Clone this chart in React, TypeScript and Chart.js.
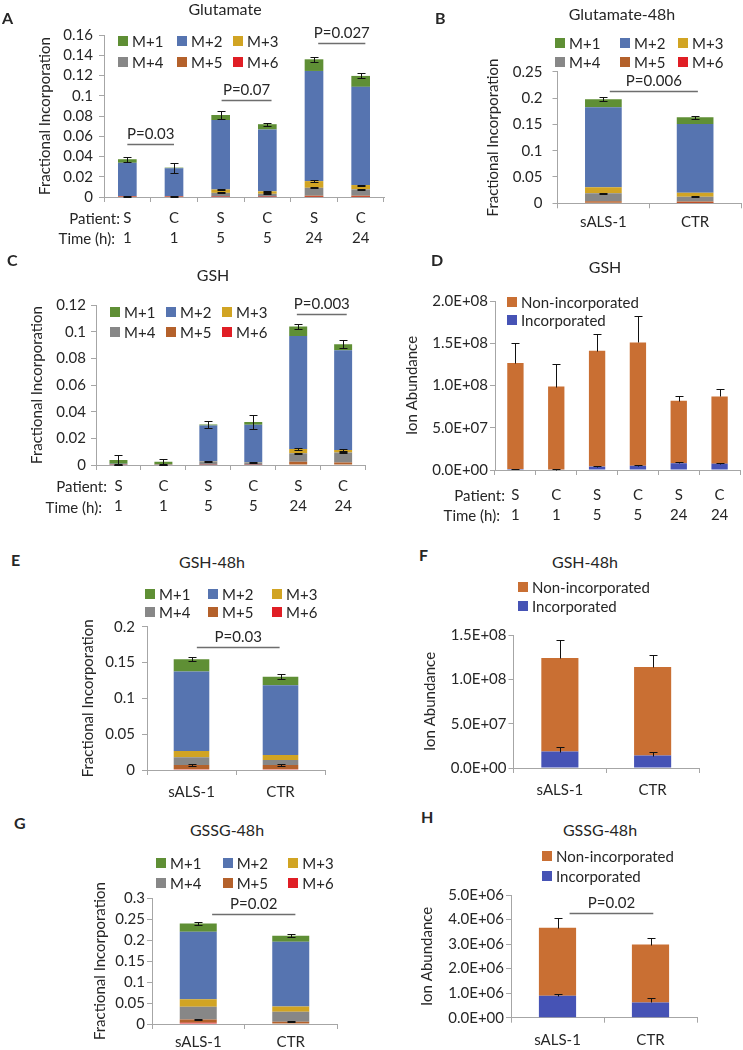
import React, { useEffect, useRef } from 'react';
import { Chart, registerables } from 'chart.js';

Chart.register(...registerables);

const FONT = 'Lato, "Open Sans", "DejaVu Sans", sans-serif';
const TEXT = '#262626';
const AXIS = '#A6A6A6';
const BRACKET = '#6E6E6E';
Chart.defaults.font.family = FONT;
Chart.defaults.color = TEXT;

// ---------------- categories / names ----------------
const patients = ['S', 'C', 'S', 'C', 'S', 'C'];
const timesH = ['1', '1', '5', '5', '24', '24'];
const groups48h = ['sALS-1', 'CTR'];
const isoNames = ['M+1', 'M+2', 'M+3', 'M+4', 'M+5', 'M+6'];
const isoColors = ['#5F8F35', '#5674B0', '#D1A423', '#878787', '#B4612B', '#E01E25'];
const abundNames = ['Non-incorporated', 'Incorporated'];
const abundColors = ['#C96F33', '#4653B5'];

// ---------------- A: Glutamate (time course) ----------------
const gluM1 = [0.0035, 0.0006, 0.005, 0.0052, 0.0115, 0.0108];
const gluM2 = [0.0328, 0.0275, 0.0686, 0.0611, 0.1088, 0.097];
const gluM3 = [0.0004, 0.0003, 0.0033, 0.0024, 0.0066, 0.0043];
const gluM4 = [0.0003, 0.0003, 0.0037, 0.0029, 0.0078, 0.0062];
const gluM5 = [0.0002, 0.0002, 0.0003, 0.0002, 0.0012, 0.0012];
const gluM6 = [0.0001, 0.0001, 0.0001, 0.0001, 0.0001, 0.0001];
const gluM1Err = [0.0025, 0.005, 0.004, 0.0016, 0.0025, 0.0024];
const gluM3Err = [0, 0, 0.0005, 0.0004, 0.0006, 0.0005];
const gluM4Err = [0.0004, 0.0004, 0.0005, 0.0004, 0.0006, 0.0005];

// ---------------- B: Glutamate-48h ----------------
const glu48M1 = [0.0155, 0.0127];
const glu48M2 = [0.152, 0.1306];
const glu48M3 = [0.0114, 0.0076];
const glu48M4 = [0.015, 0.009];
const glu48M5 = [0.003, 0.003];
const glu48M6 = [0.001, 0.0006];
const glu48M1Err = [0.004, 0.003];
const glu48M4Err = [0.001, 0.001];

// ---------------- C: GSH (time course) ----------------
const gshM1 = [0.0028, 0.0019, 0.0007, 0.002, 0.007, 0.0045];
const gshM2 = [0.0003, 0.0002, 0.027, 0.0283, 0.0848, 0.0747];
const gshM3 = [0.0001, 0.0001, 0.0003, 0.0002, 0.0032, 0.002];
const gshM4 = [0.0003, 0.0002, 0.0022, 0.0015, 0.0063, 0.0075];
const gshM5 = [0.0001, 0.0001, 0.0001, 0.0001, 0.0022, 0.0015];
const gshM6 = [0.0001, 0, 0.0001, 0.0001, 0.0003, 0.0003];
const gshM1Err = [0.0035, 0.0022, 0.0025, 0.0055, 0.0017, 0.003];
const gshM3Err = [0, 0, 0, 0, 0.0006, 0.0005];
const gshM4Err = [0.0004, 0.0003, 0.0005, 0.0003, 0.0005, 0.0006];

// ---------------- D: GSH ion abundance ----------------
const gshNonInc = [1.255e8, 0.983e8, 1.37e8, 1.46e8, 0.74e8, 0.795e8];
const gshInc = [0.012e8, 0.005e8, 0.04e8, 0.05e8, 0.08e8, 0.075e8];
const gshNonIncErr = [0.235e8, 0.27e8, 0.2e8, 0.31e8, 0.055e8, 0.09e8];
const gshIncErr = [0.003e8, 0.002e8, 0.01e8, 0.015e8, 0.01e8, 0.012e8];

// ---------------- E: GSH-48h ----------------
const gsh48M1 = [0.0173, 0.012];
const gsh48M2 = [0.1108, 0.0973];
const gsh48M3 = [0.0088, 0.007];
const gsh48M4 = [0.0107, 0.007];
const gsh48M5 = [0.006, 0.006];
const gsh48M6 = [0.001, 0.001];
const gsh48M1Err = [0.003, 0.003];
const gsh48M5Err = [0.0008, 0.0008];

// ---------------- F: GSH-48h ion abundance ----------------
const gsh48NonInc = [1.055e8, 1.0e8];
const gsh48Inc = [0.185e8, 0.14e8];
const gsh48NonIncErr = [0.2e8, 0.14e8];
const gsh48IncErr = [0.05e8, 0.04e8];

// ---------------- G: GSSG-48h ----------------
const gssgM1 = [0.02, 0.014];
const gssgM2 = [0.161, 0.155];
const gssgM3 = [0.018, 0.012];
const gssgM4 = [0.03, 0.024];
const gssgM5 = [0.008, 0.0045];
const gssgM6 = [0.003, 0.001];
const gssgM1Err = [0.004, 0.004];
const gssgM5Err = [0.0015, 0.001];

// ---------------- H: GSSG-48h ion abundance ----------------
const gssgNonInc = [2.78e6, 2.36e6];
const gssgInc = [0.89e6, 0.62e6];
const gssgNonIncErr = [0.41e6, 0.27e6];
const gssgIncErr = [0.07e6, 0.2e6];

// ---------------- helpers ----------------
const sci = (v: number): string => {
  const [m, e] = v.toExponential(1).split('e');
  const n = parseInt(e, 10);
  return `${m}E${n < 0 ? '-' : '+'}${String(Math.abs(n)).padStart(2, '0')}`;
};
const dec = (v: number): string => String(Number(v.toFixed(6)));

const isoSeries = (vals: number[][], errs: (number[] | undefined)[]) =>
  [5, 4, 3, 2, 1, 0].map((i) => ({ name: isoNames[i], color: isoColors[i], data: vals[i], err: errs[i] }));
const abundSeries = (nonInc: number[], inc: number[], nonErr: number[], incErr: number[]) => [
  { name: abundNames[1], color: abundColors[1], data: inc, err: incErr },
  { name: abundNames[0], color: abundColors[0], data: nonInc, err: nonErr },
];
const timeLabels = patients.map((p, i) => [p, timesH[i]]);

type Bracket = { from: number; to: number; y: number; text: string };
type Spec = {
  box: number[];
  plot: number[];
  labels: any[];
  series: { name: string; color: string; data: number[]; err?: number[] }[];
  yMax: number;
  yStep: number;
  fmt: (v: number) => string;
  yTitle: string;
  yTitleX: number;
  yPad: number;
  xFirstLineY: number;
  xLineH: number;
  brackets: Bracket[];
  plusOnly: boolean;
};

const specA: Spec = {
  box: [0, 20, 390, 235], plot: [104, 33, 384, 197], labels: timeLabels,
  series: isoSeries([gluM1, gluM2, gluM3, gluM4, gluM5, gluM6], [gluM1Err, undefined, gluM3Err, gluM4Err, undefined, undefined]),
  yMax: 0.16, yStep: 0.02, fmt: dec, yTitle: 'Fractional Incorporation', yTitleX: 45, yPad: 6,
  xFirstLineY: 218, xLineH: 20,
  brackets: [
    { from: 0, to: 1, y: 0.052, text: 'P=0.03' },
    { from: 2.02, to: 3.09, y: 0.0958, text: 'P=0.07' },
    { from: 4.09, to: 5.1, y: 0.152, text: 'P=0.027' },
  ],
  plusOnly: false,
};
const specB: Spec = {
  box: [440, 40, 303, 195], plot: [557.5, 71.7, 741, 203.3], labels: groups48h,
  series: isoSeries([glu48M1, glu48M2, glu48M3, glu48M4, glu48M5, glu48M6], [glu48M1Err, undefined, undefined, glu48M4Err, undefined, undefined]),
  yMax: 0.25, yStep: 0.05, fmt: dec, yTitle: 'Fractional Incorporation', yTitleX: 493, yPad: 10,
  xFirstLineY: 222, xLineH: 18,
  brackets: [{ from: 0.07, to: 1.03, y: 0.214, text: 'P=0.006' }],
  plusOnly: false,
};
const specC: Spec = {
  box: [0, 290, 390, 235], plot: [96, 305, 365.6, 465], labels: timeLabels,
  series: isoSeries([gshM1, gshM2, gshM3, gshM4, gshM5, gshM6], [gshM1Err, undefined, gshM3Err, gshM4Err, undefined, undefined]),
  yMax: 0.12, yStep: 0.02, fmt: dec, yTitle: 'Fractional Incorporation', yTitleX: 37, yPad: 5,
  xFirstLineY: 486, xLineH: 20.5,
  brackets: [{ from: 3.97, to: 5.08, y: 0.113, text: 'P=0.003' }],
  plusOnly: false,
};
const specD: Spec = {
  box: [395, 290, 348, 240], plot: [495, 300, 740, 470], labels: timeLabels,
  series: abundSeries(gshNonInc, gshInc, gshNonIncErr, gshIncErr),
  yMax: 2e8, yStep: 0.5e8, fmt: sci, yTitle: 'Ion Abundance', yTitleX: 412, yPad: 2,
  xFirstLineY: 495, xLineH: 20,
  brackets: [],
  plusOnly: true,
};
const specE: Spec = {
  box: [0, 595, 390, 210], plot: [147, 626.7, 325, 770], labels: groups48h,
  series: isoSeries([gsh48M1, gsh48M2, gsh48M3, gsh48M4, gsh48M5, gsh48M6], [gsh48M1Err, undefined, undefined, undefined, gsh48M5Err, undefined]),
  yMax: 0.2, yStep: 0.05, fmt: dec, yTitle: 'Fractional Incorporation', yTitleX: 88, yPad: 7,
  xFirstLineY: 791.7, xLineH: 18,
  brackets: [{ from: 0.06, to: 0.99, y: 0.172, text: 'P=0.03' }],
  plusOnly: false,
};
const specF: Spec = {
  box: [395, 620, 348, 185], plot: [513.5, 635, 699, 768], labels: groups48h,
  series: abundSeries(gsh48NonInc, gsh48Inc, gsh48NonIncErr, gsh48IncErr),
  yMax: 1.5e8, yStep: 0.5e8, fmt: sci, yTitle: 'Ion Abundance', yTitleX: 430, yPad: 2,
  xFirstLineY: 790, xLineH: 18,
  brackets: [],
  plusOnly: true,
};
const specG: Spec = {
  box: [0, 855, 390, 195], plot: [152, 898.3, 337, 1024], labels: groups48h,
  series: isoSeries([gssgM1, gssgM2, gssgM3, gssgM4, gssgM5, gssgM6], [gssgM1Err, undefined, undefined, undefined, gssgM5Err, undefined]),
  yMax: 0.3, yStep: 0.05, fmt: dec, yTitle: 'Fractional Incorporation', yTitleX: 100, yPad: 2,
  xFirstLineY: 1042, xLineH: 18,
  brackets: [{ from: 0.15, to: 1.05, y: 0.2625, text: 'P=0.02' }],
  plusOnly: false,
};
const specH: Spec = {
  box: [395, 880, 348, 170], plot: [511, 895, 697, 1017.7], labels: groups48h,
  series: abundSeries(gssgNonInc, gssgInc, gssgNonIncErr, gssgIncErr),
  yMax: 5e6, yStep: 1e6, fmt: sci, yTitle: 'Ion Abundance', yTitleX: 427, yPad: 2,
  xFirstLineY: 1040, xLineH: 18,
  brackets: [{ from: 0.13, to: 1.03, y: 4.26e6, text: 'P=0.02' }],
  plusOnly: true,
};

function BarPanel({ spec }: { spec: Spec }) {
  const ref = useRef<HTMLCanvasElement>(null);
  const [bl, bt, bw, bh] = spec.box;
  useEffect(() => {
    const [pl, pt, pr, pb] = spec.plot;
    const padLeft = Math.max(0, spec.yTitleX - 9 - bl);
    const xPad = spec.xFirstLineY - pb - 5 - spec.xLineH / 2;

    const errPlugin = {
      id: 'errbars',
      afterDatasetsDraw(chart: any) {
        const ctx = chart.ctx;
        const ys = chart.scales.y;
        ctx.save();
        ctx.strokeStyle = '#111';
        ctx.lineWidth = 1;
        spec.series.forEach((s, i) => {
          if (!s.err) return;
          const meta = chart.getDatasetMeta(i);
          meta.data.forEach((el: any, j: number) => {
            const e = s.err![j];
            if (!e) return;
            let top = 0;
            for (let k = 0; k <= i; k++) top += spec.series[k].data[j];
            const x = Math.round(el.x) + 0.5;
            const yHi = Math.round(ys.getPixelForValue(top + e)) + 0.5;
            const yLo = Math.round(ys.getPixelForValue(spec.plusOnly ? top : top - e)) + 0.5;
            ctx.beginPath();
            ctx.moveTo(x, yLo);
            ctx.lineTo(x, yHi);
            ctx.moveTo(x - 4, yHi);
            ctx.lineTo(x + 4, yHi);
            if (!spec.plusOnly) {
              ctx.moveTo(x - 4, yLo);
              ctx.lineTo(x + 4, yLo);
            }
            ctx.stroke();
          });
        });
        ctx.restore();
      },
    };

    const bracketPlugin = {
      id: 'brackets',
      afterDatasetsDraw(chart: any) {
        const ctx = chart.ctx;
        const xs = chart.scales.x;
        const ys = chart.scales.y;
        ctx.save();
        spec.brackets.forEach((b) => {
          const x1 = xs.getPixelForValue(b.from);
          const x2 = xs.getPixelForValue(b.to);
          const y = Math.round(ys.getPixelForValue(b.y)) + 0.5;
          ctx.strokeStyle = BRACKET;
          ctx.lineWidth = 1.3;
          ctx.beginPath();
          ctx.moveTo(x1, y);
          ctx.lineTo(x2, y);
          ctx.stroke();
          ctx.fillStyle = TEXT;
          ctx.font = `15px ${FONT}`;
          ctx.textAlign = 'center';
          ctx.textBaseline = 'middle';
          ctx.fillText(b.text, (x1 + x2) / 2, y - 10);
        });
        ctx.restore();
      },
    };

    const gridCfg = { display: true, drawOnChartArea: false, drawTicks: true, tickLength: 5, color: AXIS, lineWidth: 1 };
    const borderCfg = { display: true, color: AXIS, width: 1 };

    const chart = new Chart(ref.current as HTMLCanvasElement, {
      type: 'bar',
      data: {
        labels: spec.labels,
        datasets: spec.series.map((s) => ({
          label: s.name,
          data: s.data,
          backgroundColor: s.color,
          borderWidth: 0,
          categoryPercentage: 1,
          barPercentage: 0.4,
        })),
      },
      options: {
        responsive: false,
        animation: false,
        devicePixelRatio: 1,
        layout: { padding: { left: padLeft, top: pt - bt, right: bl + bw - pr, bottom: 0 } },
        plugins: { legend: { display: false }, tooltip: { enabled: false }, title: { display: false } },
        scales: {
          x: {
            stacked: true,
            grid: gridCfg,
            border: borderCfg,
            ticks: {
              color: TEXT,
              font: { family: FONT, size: 15, lineHeight: spec.xLineH / 15 },
              padding: xPad,
              maxRotation: 0,
              minRotation: 0,
              autoSkip: false,
            },
            afterFit: (s: any) => {
              s.height = bt + bh - pb;
            },
          },
          y: {
            stacked: true,
            min: 0,
            max: spec.yMax,
            grid: gridCfg,
            border: borderCfg,
            ticks: {
              stepSize: spec.yStep,
              autoSkip: false,
              callback: (v: any) => spec.fmt(Number(v)),
              color: TEXT,
              font: { family: FONT, size: 15 },
              padding: spec.yPad,
            },
            title: { display: true, text: spec.yTitle, color: TEXT, font: { family: FONT, size: 15, lineHeight: 1.2 }, padding: 0 },
            afterFit: (s: any) => {
              s.width = pl - bl - padLeft;
            },
          },
        },
      } as any,
      plugins: [errPlugin, bracketPlugin],
    });
    return () => chart.destroy();
  }, [spec]);
  return (
    <canvas
      ref={ref}
      width={bw}
      height={bh}
      style={{ position: 'absolute', left: bl, top: bt, width: bw, height: bh, display: 'block' }}
    />
  );
}

function Txt({ x, y, children, align = 'center', size = 15, bold = false }: any) {
  const style: any = {
    position: 'absolute',
    top: y - 10,
    height: 20,
    lineHeight: '20px',
    fontSize: size,
    fontFamily: FONT,
    fontWeight: bold ? 700 : 400,
    color: TEXT,
    whiteSpace: 'nowrap',
  };
  if (align === 'center') {
    style.left = x;
    style.transform = 'translateX(-50%)';
  } else if (align === 'right') {
    style.right = 743 - x;
  } else {
    style.left = x;
  }
  return <div style={style}>{children}</div>;
}

function LegendItem({ x, y, color, label }: any) {
  return (
    <>
      <div style={{ position: 'absolute', left: x, top: y - 5, width: 10, height: 10, background: color }} />
      <Txt x={x + 14} y={y} align="left">{label}</Txt>
    </>
  );
}

function IsoLegend({ cols, rows }: { cols: number[]; rows: number[] }) {
  return (
    <>
      {isoNames.map((n, i) => (
        <LegendItem key={n} x={cols[i % 3]} y={rows[Math.floor(i / 3)]} color={isoColors[i]} label={n} />
      ))}
    </>
  );
}

function AbundLegend({ x, rows }: { x: number; rows: number[] }) {
  return (
    <>
      {abundNames.map((n, i) => (
        <LegendItem key={n} x={x} y={rows[i]} color={abundColors[i]} label={n} />
      ))}
    </>
  );
}

export default function App() {
  return (
    <div
      style={{
        position: 'absolute',
        left: 0,
        top: 0,
        width: 743,
        height: 1050,
        background: '#fff',
        overflow: 'hidden',
        fontFamily: FONT,
        color: TEXT,
      }}
    >
      <BarPanel spec={specA} />
      <BarPanel spec={specB} />
      <BarPanel spec={specC} />
      <BarPanel spec={specD} />
      <BarPanel spec={specE} />
      <BarPanel spec={specF} />
      <BarPanel spec={specG} />
      <BarPanel spec={specH} />

      {/* panel letters */}
      <Txt x={2} y={18} align="left" size={16} bold>A</Txt>
      <Txt x={435} y={18} align="left" size={16} bold>B</Txt>
      <Txt x={7} y={260} align="left" size={16} bold>C</Txt>
      <Txt x={431} y={260} align="left" size={16} bold>D</Txt>
      <Txt x={11} y={560} align="left" size={16} bold>E</Txt>
      <Txt x={419} y={555} align="left" size={16} bold>F</Txt>
      <Txt x={14} y={823} align="left" size={16} bold>G</Txt>
      <Txt x={421} y={817} align="left" size={16} bold>H</Txt>

      {/* titles */}
      <Txt x={225} y={9} size={16}>Glutamate</Txt>
      <Txt x={622} y={14} size={16}>Glutamate-48h</Txt>
      <Txt x={213} y={275} size={16}>GSH</Txt>
      <Txt x={605} y={267} size={16}>GSH</Txt>
      <Txt x={212} y={562} size={16}>GSH-48h</Txt>
      <Txt x={585} y={562} size={16}>GSH-48h</Txt>
      <Txt x={227} y={830} size={16}>GSSG-48h</Txt>
      <Txt x={600} y={830} size={16}>GSSG-48h</Txt>

      {/* legends */}
      <IsoLegend cols={[118, 177, 233]} rows={[40.7, 61.7]} />
      <IsoLegend cols={[555, 620, 678]} rows={[42.7, 61.7]} />
      <IsoLegend cols={[110, 166, 222]} rows={[311.7, 331.7]} />
      <AbundLegend x={507} rows={[301.7, 320]} />
      <IsoLegend cols={[145, 208, 272]} rows={[594, 612.3]} />
      <AbundLegend x={518} rows={[586.7, 606]} />
      <IsoLegend cols={[156, 222.7, 288.3]} rows={[863.3, 883.3]} />
      <AbundLegend x={542} rows={[856, 876]} />

      {/* row headers for time-course panels */}
      <Txt x={120} y={218} align="right">Patient:</Txt>
      <Txt x={115} y={238} align="right">Time (h):</Txt>
      <Txt x={107} y={486} align="right">Patient:</Txt>
      <Txt x={102} y={507} align="right">Time (h):</Txt>
      <Txt x={505} y={495} align="right">Patient:</Txt>
      <Txt x={500} y={515} align="right">Time (h):</Txt>
    </div>
  );
}
